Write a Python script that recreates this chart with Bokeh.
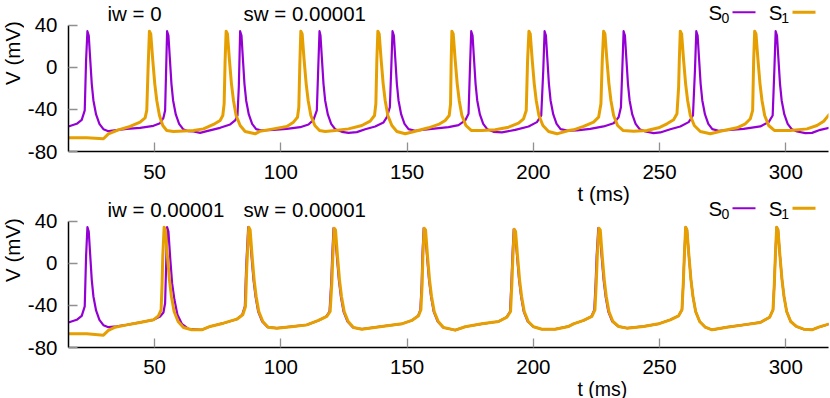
import math
from bokeh.plotting import figure
from bokeh.layouts import column, row
from bokeh.models import Range1d, FixedTicker, Label, BoxAnnotation
from bokeh.embed import file_html
from bokeh.resources import INLINE

FONT = "Liberation Sans"
PURPLE = "#9400d3"
ORANGE = "#e69f00"

x_ticks = [50, 100, 150, 200, 250, 300]
y_ticks = [-80, -40, 0, 40]
y_tick_labels = ["-80", "-40", "0", "40"]
x_label = "t (ms)"
y_label = "V (mV)"
series_names = ["S", "S"]
series_subs = ["0", "1"]
titles_top = ["iw = 0", "sw = 0.00001"]
titles_bottom = ["iw = 0.00001", "sw = 0.00001"]

# (t [ms], V [mV])
top_s0 = [(15.86,-56.2),(19.16,-53.7),(21.14,-49.9),(22.33,-41.0),(22.86,6.5),(23.39,34.3),(23.92,30.2),(24.45,9.6),(25.11,-15.7),(25.77,-31.5),(26.82,-44.8),(28.14,-53.7),(29.73,-58.8),(31.71,-60.7),(38.97,-58.5),(44.26,-57.5),(49.54,-55.6),(52.18,-53.1),(53.50,-48.0),(54.16,-41.0),(54.56,-3.0),(54.95,34.3),(55.48,30.2),(56.01,9.6),(56.67,-15.7),(57.33,-31.5),(58.39,-44.8),(59.71,-53.7),(61.29,-58.8),(63.41,-60.7),(65.39,-61.0),(68.03,-62.3),(70.67,-60.7),(75.95,-57.5),(79.92,-54.3),(81.90,-50.5),(82.82,-45.8),(83.35,-18.9),(83.88,34.3),(84.41,30.2),(84.93,9.6),(85.59,-15.7),(86.26,-31.5),(87.31,-44.8),(88.63,-53.7),(90.22,-58.8),(92.46,-60.0),(97.08,-59.4),(102.37,-58.5),(107.65,-56.9),(110.95,-54.3),(112.93,-49.9),(114.25,-41.0),(114.78,-3.0),(115.31,34.3),(115.70,30.2),(116.23,9.6),(116.89,-15.7),(117.55,-31.5),(118.61,-44.8),(119.93,-53.7),(121.51,-58.8),(124.16,-61.3),(126.80,-62.3),(130.10,-61.6),(133.40,-58.8),(137.36,-56.2),(140.66,-52.4),(141.99,-47.4),(143.17,-37.9),(143.70,-3.0),(144.23,34.3),(144.76,30.2),(145.29,9.6),(145.95,-15.7),(146.61,-31.5),(147.66,-44.8),(148.98,-53.7),(150.57,-58.8),(153.21,-60.3),(159.81,-58.5),(166.42,-56.9),(170.38,-54.9),(173.02,-50.5),(174.34,-44.2),(174.87,-3.0),(175.40,34.3),(175.93,30.2),(176.46,9.6),(177.12,-15.7),(177.78,-31.5),(178.83,-44.8),(180.15,-53.7),(181.74,-58.8),(184.25,-61.3),(187.55,-61.9),(192.83,-59.4),(198.12,-56.2),(201.42,-52.1),(203.13,-45.8),(203.93,-3.0),(204.46,34.3),(204.98,30.2),(205.51,9.6),(206.17,-15.7),(206.83,-31.5),(207.89,-44.8),(209.21,-53.7),(210.79,-58.8),(213.96,-60.3),(217.26,-60.0),(222.54,-58.5),(227.83,-56.2),(231.79,-53.1),(233.77,-47.4),(234.69,-37.9),(235.22,-3.0),(235.75,34.3),(236.28,30.2),(236.81,9.6),(237.47,-15.7),(238.13,-31.5),(239.18,-44.8),(240.51,-53.7),(242.09,-58.8),(244.34,-61.0),(247.64,-62.6),(250.28,-61.9),(254.24,-58.8),(258.20,-56.2),(261.51,-52.1),(263.22,-45.8),(264.01,-3.0),(264.54,34.3),(265.07,30.2),(265.60,9.6),(266.26,-15.7),(266.92,-31.5),(267.98,-44.8),(269.30,-53.7),(270.88,-58.8),(273.39,-60.3),(278.01,-59.4),(283.30,-58.5),(289.90,-56.2),(293.20,-52.1),(294.79,-45.8),(295.45,-3.0),(295.97,34.3),(296.50,30.2),(297.03,9.6),(297.69,-15.7),(298.35,-31.5),(299.41,-44.8),(300.73,-53.7),(302.32,-58.8),(304.43,-61.0),(307.73,-62.6),(310.37,-62.3),(313.67,-59.4),(317.64,-57.2)]

top_s1 = [(15.86,-67.0),(23.13,-67.0),(29.73,-67.9),(31.71,-63.2),(35.67,-59.4),(40.29,-56.2),(44.26,-52.1),(46.24,-48.0),(46.90,-41.0),(47.43,0.1),(47.95,34.3),(48.48,31.8),(49.28,6.5),(50.07,-15.7),(50.86,-31.5),(51.92,-45.8),(53.24,-55.3),(54.82,-60.0),(57.46,-61.0),(65.39,-60.0),(69.35,-58.5),(73.31,-54.3),(75.95,-50.5),(77.01,-45.8),(77.54,-34.7),(77.93,6.5),(78.33,34.3),(78.86,31.8),(79.65,6.5),(80.44,-15.7),(81.24,-31.5),(82.29,-45.8),(83.88,-55.3),(85.86,-61.0),(89.82,-63.2),(91.80,-60.7),(97.08,-58.5),(102.37,-56.2),(105.01,-52.1),(106.59,-47.4),(107.12,-37.9),(107.52,3.3),(107.91,34.3),(108.44,31.8),(109.23,6.5),(110.03,-15.7),(110.82,-31.5),(111.88,-45.8),(113.46,-55.3),(115.31,-60.0),(117.55,-61.0),(121.51,-60.0),(126.80,-58.5),(132.08,-55.3),(135.38,-51.2),(137.10,-45.8),(137.63,-34.7),(138.02,6.5),(138.42,34.3),(138.95,31.8),(139.74,6.5),(140.53,-15.7),(141.32,-31.5),(142.38,-45.8),(143.97,-55.3),(145.95,-61.0),(149.25,-63.2),(153.21,-60.7),(158.49,-57.5),(162.46,-54.3),(165.10,-50.5),(166.68,-45.8),(167.21,-34.7),(167.47,6.5),(167.74,34.3),(168.27,31.8),(169.06,6.5),(169.85,-15.7),(170.65,-31.5),(171.70,-45.8),(173.29,-55.3),(175.40,-60.0),(179.63,-60.0),(184.91,-59.4),(190.19,-56.9),(194.15,-53.1),(196.13,-48.9),(197.19,-41.0),(197.72,6.5),(198.25,34.3),(198.78,31.8),(199.57,6.5),(200.36,-15.7),(201.15,-31.5),(202.21,-45.8),(203.79,-55.3),(206.04,-61.0),(209.34,-63.2),(213.96,-60.0),(215.94,-59.4),(219.90,-56.2),(223.86,-52.1),(225.85,-47.4),(226.77,-34.7),(227.30,6.5),(227.83,34.3),(228.36,31.8),(229.15,6.5),(229.94,-15.7),(230.73,-31.5),(231.79,-45.8),(233.37,-55.3),(235.49,-60.0),(239.71,-60.7),(245.00,-60.0),(249.62,-57.5),(252.92,-53.7),(255.56,-49.9),(256.88,-44.2),(257.54,-18.9),(257.81,6.5),(258.20,34.3),(258.73,31.8),(259.52,6.5),(260.31,-15.7),(261.11,-31.5),(262.17,-45.8),(263.75,-55.3),(266.13,-61.0),(270.09,-63.2),(275.37,-60.0),(280.66,-57.5),(283.96,-53.7),(285.94,-48.9),(286.86,-41.0),(287.26,6.5),(287.66,34.3),(288.18,31.8),(288.98,6.5),(289.77,-15.7),(290.56,-31.5),(291.62,-45.8),(293.20,-55.3),(295.45,-60.0),(301.79,-60.0),(308.39,-58.5),(312.35,-55.3),(315.00,-51.2),(317.37,-44.2)]

bot_s0 = [(15.86,-56.2),(19.16,-53.7),(21.14,-49.9),(22.33,-41.0),(22.86,6.5),(23.39,34.3),(23.92,30.2),(24.45,9.6),(25.11,-15.7),(25.77,-31.5),(26.82,-44.8),(28.14,-53.7),(29.73,-58.8),(31.71,-60.7),(35.01,-60.0),(38.97,-58.5),(44.26,-56.2),(49.54,-53.7),(52.18,-50.5),(53.50,-46.7),(54.16,-37.9),(54.56,-3.0),(54.95,34.3),(55.48,30.2),(56.14,6.5),(56.93,-18.9),(57.86,-34.7),(59.05,-48.9),(60.77,-57.5),(63.41,-62.3),(68.69,-63.2),(71.99,-60.0),(77.27,-56.9),(82.56,-53.1),(84.70,-48.9),(85.75,-41.0),(86.28,-3.0),(87.07,34.3),(87.60,31.8),(88.39,6.5),(89.18,-15.7),(89.98,-31.5),(91.03,-45.8),(92.62,-55.3),(94.80,-60.7),(98.40,-61.6),(105.01,-60.0),(110.29,-58.5),(114.91,-54.3),(118.00,-50.5),(119.28,-45.8),(119.94,-18.9),(120.34,6.5),(120.87,33.4),(121.40,31.8),(122.19,6.5),(122.98,-15.7),(123.77,-31.5),(124.83,-45.8),(126.41,-55.3),(128.60,-61.0),(132.08,-62.6),(140.00,-60.0),(147.93,-57.5),(151.89,-54.3),(154.35,-49.9),(155.26,-44.2),(155.78,-18.9),(156.05,6.5),(156.58,33.4),(157.11,31.8),(157.90,6.5),(158.69,-15.7),(159.48,-31.5),(160.54,-45.8),(162.13,-55.3),(164.30,-61.0),(169.06,-63.5),(173.02,-60.3),(179.63,-57.5),(186.23,-55.3),(189.40,-51.2),(190.78,-45.8),(191.31,-18.9),(191.71,6.5),(192.24,32.4),(192.77,30.2),(193.56,6.5),(194.35,-15.7),(195.15,-31.5),(196.20,-45.8),(197.79,-55.3),(200.00,-60.3),(203.40,-62.6),(208.68,-62.6),(213.96,-60.0),(215.94,-57.5),(219.90,-54.3),(223.00,-50.5),(224.14,-44.2),(224.67,-18.9),(225.07,6.5),(225.73,33.4),(226.26,31.8),(227.05,6.5),(227.84,-15.7),(228.63,-31.5),(229.69,-45.8),(231.27,-55.3),(233.60,-60.0),(237.07,-61.6),(243.68,-60.0),(249.62,-57.5),(254.24,-53.7),(257.54,-49.9),(258.86,-44.2),(259.39,-18.9),(259.79,6.5),(260.32,34.3),(260.84,31.8),(261.64,6.5),(262.43,-15.7),(263.22,-31.5),(264.28,-45.8),(265.87,-55.3),(268.11,-60.7),(270.75,-63.2),(276.69,-60.7),(283.30,-58.5),(289.90,-56.2),(293.60,-51.2),(294.92,-44.2),(295.45,-18.9),(295.84,6.5),(296.37,34.3),(296.90,31.8),(297.69,6.5),(298.49,-15.7),(299.28,-31.5),(300.33,-45.8),(301.92,-55.3),(304.16,-60.0),(307.07,-62.6),(310.37,-63.2),(313.01,-60.7),(317.37,-57.5)]

bot_s1 = [(15.86,-67.0),(23.13,-67.0),(29.73,-68.3),(31.71,-63.8),(34.35,-60.7),(38.97,-58.5),(44.26,-56.2),(49.54,-53.7),(51.52,-49.9),(52.58,-44.2),(52.97,-18.9),(53.24,6.5),(53.77,34.3),(54.29,31.8),(55.09,6.5),(55.88,-15.7),(56.67,-31.5),(57.73,-45.8),(59.31,-55.3),(61.43,-61.0),(64.73,-63.2),(68.69,-63.2),(71.99,-60.0),(77.27,-56.9),(82.56,-53.1),(84.93,-48.9),(85.99,-41.0),(86.52,-3.0),(87.31,34.3),(87.84,31.8),(88.63,6.5),(89.42,-15.7),(90.22,-31.5),(91.27,-45.8),(92.86,-55.3),(94.97,-60.7),(98.40,-61.6),(105.01,-60.0),(110.29,-58.5),(114.91,-54.3),(118.21,-50.5),(119.53,-45.8),(120.19,-18.9),(120.59,6.5),(121.12,33.4),(121.65,31.8),(122.44,6.5),(123.23,-15.7),(124.02,-31.5),(125.08,-45.8),(126.66,-55.3),(128.78,-61.0),(132.08,-62.6),(140.00,-60.0),(147.93,-57.5),(151.89,-54.3),(154.53,-49.9),(155.46,-44.2),(155.98,-18.9),(156.25,6.5),(156.78,33.4),(157.31,31.8),(158.10,6.5),(158.89,-15.7),(159.68,-31.5),(160.74,-45.8),(162.33,-55.3),(164.44,-61.0),(169.06,-63.5),(173.02,-60.3),(179.63,-57.5),(186.23,-55.3),(189.53,-51.2),(190.98,-45.8),(191.51,-18.9),(191.91,6.5),(192.44,32.4),(192.97,30.2),(193.76,6.5),(194.55,-15.7),(195.35,-31.5),(196.40,-45.8),(197.99,-55.3),(200.10,-60.3),(203.40,-62.6),(208.68,-62.6),(213.96,-60.0),(215.94,-57.5),(219.90,-54.3),(223.20,-50.5),(224.39,-44.2),(224.92,-18.9),(225.32,6.5),(225.98,33.4),(226.51,31.8),(227.30,6.5),(228.09,-15.7),(228.88,-31.5),(229.94,-45.8),(231.52,-55.3),(233.77,-60.0),(237.07,-61.6),(243.68,-60.0),(249.62,-57.5),(254.24,-53.7),(257.54,-49.9),(258.86,-44.2),(259.39,-18.9),(259.79,6.5),(260.32,34.3),(260.84,31.8),(261.64,6.5),(262.43,-15.7),(263.22,-31.5),(264.28,-45.8),(265.87,-55.3),(268.11,-60.7),(270.75,-63.2),(276.69,-60.7),(283.30,-58.5),(289.90,-56.2),(293.60,-51.2),(294.92,-44.2),(295.45,-18.9),(295.84,6.5),(296.37,34.3),(296.90,31.8),(297.69,6.5),(298.49,-15.7),(299.28,-31.5),(300.33,-45.8),(301.92,-55.3),(304.16,-60.0),(307.07,-62.6),(310.37,-63.2),(313.01,-60.7),(317.37,-57.5)]

FS = "20.5px"
X0, X1 = 15.9, 316.9
STRIP_W = 24


def lbl(p, text, x, y, size=FS, color="black", align="left", angle=0.0):
    p.add_layout(Label(text=text, x=x, y=y, x_units="screen", y_units="screen",
                       text_font=FONT, text_font_size=size, text_color=color,
                       text_align=align, text_baseline="middle", angle=angle))


def blank(width, height):
    s = figure(width=width, height=height, x_range=Range1d(0, 1), y_range=Range1d(0, 1),
               output_backend="svg", toolbar_location=None, min_border=0,
               x_axis_type=None, y_axis_type=None)
    s.outline_line_color = None
    s.border_fill_color = "white"
    s.background_fill_color = "white"
    return s


def make_panel(frame_h, y_top, s0, s1, titles, border_bottom, x_standoff, extra_xlabel=False):
    p = figure(frame_width=760, frame_height=frame_h,
               x_range=Range1d(X0, X1), y_range=Range1d(-80, y_top),
               output_backend="svg", toolbar_location=None,
               min_border_left=68 - STRIP_W, min_border_right=2,
               min_border_top=0, min_border_bottom=border_bottom)
    p.outline_line_color = None
    p.background_fill_color = "white"
    p.border_fill_color = "white"
    p.xgrid.visible = False
    p.ygrid.visible = False

    p.line([a for a, b in s0], [b for a, b in s0], line_color=PURPLE, line_width=2.2, line_join="round")
    p.line([a for a, b in s1], [b for a, b in s1], line_color=ORANGE, line_width=3.0, line_join="round")

    for ax in (p.xaxis[0], p.yaxis[0]):
        ax.axis_line_color = "black"
        ax.axis_line_width = 1.5
        ax.major_tick_in = 9
        ax.major_tick_out = 0
        ax.major_tick_line_color = "#909090"
        ax.major_tick_line_width = 1.3
        ax.minor_tick_line_color = None
        ax.major_label_text_font = FONT
        ax.major_label_text_font_size = FS
        ax.major_label_text_color = "black"
    xa, ya = p.xaxis[0], p.yaxis[0]
    xa.ticker = FixedTicker(ticks=x_ticks)
    ya.ticker = FixedTicker(ticks=y_ticks)
    ya.bounds = (-80, 40)
    ya.major_label_overrides = {v: s for v, s in zip(y_ticks, y_tick_labels)}
    xa.major_label_standoff = x_standoff
    ya.major_label_standoff = 11

    # panel titles
    lbl(p, titles[0], 39, 138.1)
    lbl(p, titles[1], 175, 138.1)
    # legend (text first, then sample line, gnuplot style)
    lbl(p, series_names[0], 640, 139.1)
    lbl(p, series_subs[0], 653, 134, size="14px")
    p.add_layout(BoxAnnotation(left=664, right=687, bottom=138.3, top=140.3,
                               left_units="screen", right_units="screen",
                               top_units="screen", bottom_units="screen",
                               fill_color=PURPLE, fill_alpha=1, line_color=None))
    lbl(p, series_names[1], 700.3, 139.1)
    lbl(p, series_subs[1], 712.7, 134, size="14px")
    p.add_layout(BoxAnnotation(left=724, right=747, bottom=137.8, top=140.8,
                               left_units="screen", right_units="screen",
                               top_units="screen", bottom_units="screen",
                               fill_color=ORANGE, fill_alpha=1, line_color=None))
    if extra_xlabel:
        # x-axis title of the panel above, which falls inside this frame
        lbl(p, x_label, 509, 154.5)
    return p


# top panel: frame spans page y 0..151 (40 mV at 24.7 px); figure 0..180
p1 = make_panel(151, 63.47, top_s0, top_s1, titles_top, 29, 13)
# bottom panel: frame spans page y 180..346 (40 mV at 219.7 px); figure 180..374
p2 = make_panel(166, 77.72, bot_s0, bot_s1, titles_bottom, 28, 12, extra_xlabel=True)

# narrow strips on the left holding the rotated y-axis titles
sA = blank(STRIP_W, 180)
lbl(sA, y_label, 11.6, 97.5, align="center", angle=math.pi / 2)
sB = blank(STRIP_W, 194)
lbl(sB, y_label, 11.6, 96.5, align="center", angle=math.pi / 2)

# footer strip holding the x-axis title of the bottom panel (page y 374..398)
p3 = blank(830, 24)
lbl(p3, x_label, 577, 12, size="19.5px")

layout = column(row(sA, p1, spacing=0), row(sB, p2, spacing=0), p3, spacing=0)

open("out.html", "w").write(file_html(layout, INLINE))
